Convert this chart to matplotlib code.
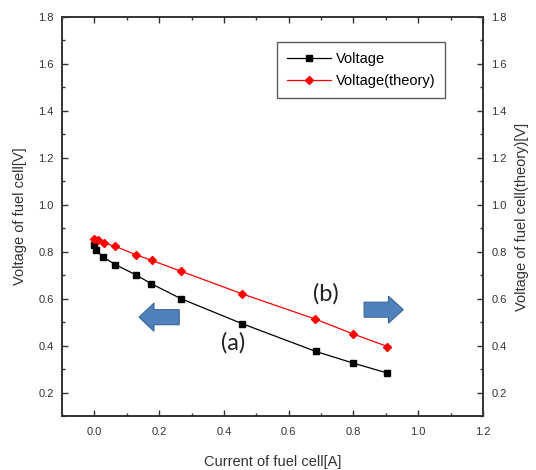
import matplotlib
matplotlib.use("Agg")
import matplotlib.pyplot as plt
from matplotlib.ticker import MultipleLocator
from matplotlib.patches import FancyArrow

plt.rcParams["font.family"] = ["Liberation Sans", "DejaVu Sans"]

# Measured data
current = [0.0, 0.005, 0.028, 0.065, 0.13, 0.175, 0.267, 0.455, 0.684, 0.80, 0.905]
voltage = [0.83, 0.806, 0.776, 0.745, 0.70, 0.664, 0.60, 0.494, 0.375, 0.325, 0.283]
current_th = [0.0, 0.01, 0.03, 0.064, 0.13, 0.177, 0.269, 0.455, 0.682, 0.80, 0.905]
voltage_th = [0.856, 0.848, 0.837, 0.823, 0.786, 0.763, 0.716, 0.621, 0.513, 0.449, 0.396]

fig = plt.figure(figsize=(5.36, 4.70), dpi=100)
ax = fig.add_axes([0.1157, 0.1149, 0.7853, 0.849])
ax2 = ax.twinx()

l1, = ax.plot(current, voltage, color="black", lw=0.9, marker="s", ms=5,
              label="Voltage")
l2, = ax2.plot(current_th, voltage_th, color="red", lw=0.9, marker="D", ms=4.5,
               label="Voltage(theory)")

for a in (ax, ax2):
    a.set_xlim(-0.1, 1.2)
    a.set_ylim(0.1, 1.8)
    a.yaxis.set_major_locator(MultipleLocator(0.2))
    a.yaxis.set_minor_locator(MultipleLocator(0.1))
    a.tick_params(which="both", direction="in", labelsize=8, colors="#333333",
                  width=1.0)
    a.tick_params(which="major", length=4)
    a.tick_params(which="minor", length=2.5)
    for s in a.spines.values():
        s.set_linewidth(1.2)
        s.set_color("#333333")

ax.xaxis.set_major_locator(MultipleLocator(0.2))
ax.xaxis.set_minor_locator(MultipleLocator(0.1))
ax.tick_params(axis="x", which="both", top=True, pad=8)
ax.set_xticks([0.0, 0.2, 0.4, 0.6, 0.8, 1.0, 1.2])
ax.set_xticklabels(["0.0", "0.2", "0.4", "0.6", "0.8", "1.0", "1.2"])
ax.tick_params(axis="y", pad=6)
ax2.tick_params(axis="y", pad=6)

ax.set_xlabel("Current of fuel cell[A]", fontsize=10.5, labelpad=13, color="#333333")
ax.set_ylabel("Voltage of fuel cell[V]", fontsize=10.5, labelpad=8, color="#333333")
ax2.set_ylabel("Voltage of fuel cell(theory)[V]", fontsize=10.5, labelpad=6,
               color="#333333")

leg = ax.legend(handles=[l1, l2], loc="upper left", bbox_to_anchor=(0.511, 0.937),
                borderaxespad=0, fontsize=10.5, frameon=True, fancybox=False,
                handlelength=3, handletextpad=0.3, borderpad=0.7, labelspacing=0.5)
leg.get_frame().set_edgecolor("#333333")
leg.get_frame().set_linewidth(1.0)

# Annotations
ax.text(0.428, 0.41, "(a)", fontsize=17, family="Lato", ha="center", va="center",
        color="#222222")
ax.text(0.714, 0.62, "(b)", fontsize=17, family="Lato", ha="center", va="center",
        color="#222222")
ax.add_patch(FancyArrow(0.262, 0.521, -0.124, 0.0, width=0.064, head_width=0.12,
                        head_length=0.046, length_includes_head=True,
                        facecolor="#4F81BD", edgecolor="#3A6496", lw=0.8))
ax.add_patch(FancyArrow(0.833, 0.553, 0.121, 0.0, width=0.064, head_width=0.115,
                        head_length=0.046, length_includes_head=True,
                        facecolor="#4F81BD", edgecolor="#3A6496", lw=0.8))

fig.savefig("out.png", dpi=100)
